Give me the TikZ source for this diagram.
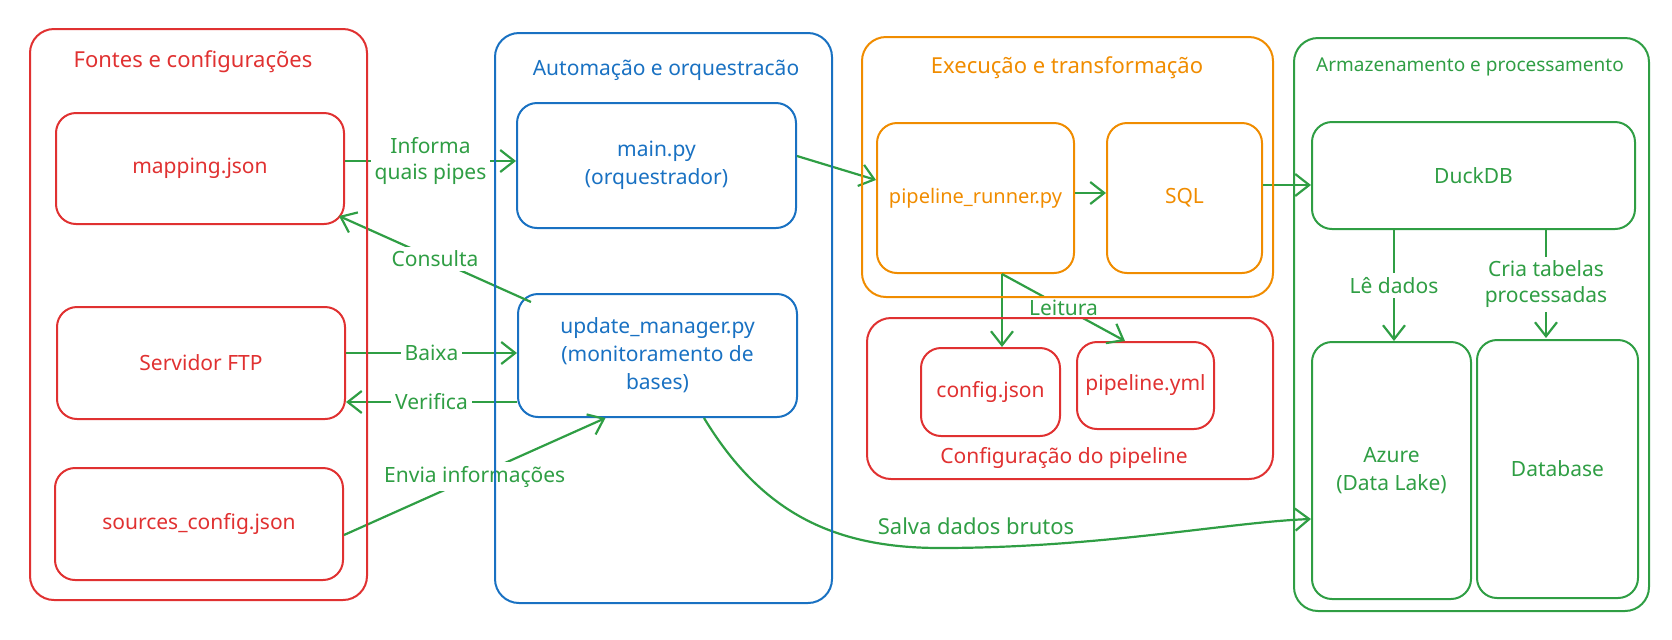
\documentclass[tikz,border=0pt]{standalone}
\usepackage{fontspec}
\setmainfont{Noto Sans}
\usepackage{tikz}
\usetikzlibrary{arrows.meta}
\definecolor{srcred}{HTML}{E03131}
\definecolor{autoblue}{HTML}{1971C2}
\definecolor{execorange}{HTML}{F08C00}
\definecolor{flowgreen}{HTML}{2F9E44}
\tikzset{
  group/.style={
    rectangle, rounded corners=12pt,
    line width=1pt, fill=none,
  },
  box/.style={
    rectangle, rounded corners=10pt,
    line width=1pt, align=center,
    font=\fontsize{10.5}{14}\selectfont,
  },
  grouptitle/.style={font=\fontsize{10.5}{13}\selectfont},
  flow/.style={-{Straight Barb[length=7pt, width=11pt]}, line width=1.1pt, color=flowgreen},
  flowlabel/.style={fill=white, text=flowgreen, inner sep=2pt, align=center,
    font=\fontsize{10.5}{13}\selectfont},
}

\begin{document}
\begin{tikzpicture}[x=0.5pt, y=-0.5pt]

  \useasboundingbox (0,0) rectangle (1672,639);

  \node[box, draw=srcred, text=srcred, minimum width=144pt, minimum height=55.5pt] (mapping) at (200,168.5) {mapping.json};
  \node[box, draw=srcred, text=srcred, minimum width=144pt, minimum height=56pt] (ftp) at (201,363) {Servidor FTP};
  \node[box, draw=srcred, text=srcred, minimum width=144pt, minimum height=56pt] (sources) at (199,524) {sources\_config.json};

  \node[box, draw=autoblue, text=autoblue, minimum width=139.5pt, minimum height=62.5pt] (main) at (656.5,165.5) {main.py\\(orquestrador)};
  \node[box, draw=autoblue, text=autoblue, minimum width=139.5pt, minimum height=61.5pt] (update) at (657.5,355.5) {update\_manager.py\\(monitoramento de\\bases)};

  \node[box, draw=execorange, text=execorange, minimum width=98.5pt, minimum height=75pt,
    font=\fontsize{10}{12}\selectfont] (runner) at (975.5,198) {pipeline\_runner.py};
  \node[box, draw=execorange, text=execorange, minimum width=77.5pt, minimum height=75pt] (sql) at (1184.5,198) {SQL};

  \node[box, draw=srcred, text=srcred, minimum width=69.5pt, minimum height=44pt] (cfgjson) at (990.5,392) {config.json};
  \node[box, draw=srcred, text=srcred, minimum width=68.5pt, minimum height=43.5pt] (pipeyml) at (1145.5,385.5) {pipeline.yml};

  \node[box, draw=flowgreen, text=flowgreen, minimum width=161.5pt, minimum height=53.5pt] (duckdb) at (1473.5,175.5) {DuckDB};
  \node[box, draw=flowgreen, text=flowgreen, minimum width=79.5pt, minimum height=128.5pt] (azure) at (1391.5,470.5) {Azure\\(Data Lake)};
  \node[box, draw=flowgreen, text=flowgreen, minimum width=80.5pt, minimum height=129pt] (database) at (1557.5,469) {Database};

  \draw[flow] ([yshift=3.75pt]mapping.east) -- ([yshift=3.75pt]mapping.east -| main.west)
    node[flowlabel, midway] {Informa\\quais pipes};
  \draw[flow] ([shift={(7pt,-4.5pt)}]update.north west) -- ([shift={(-3pt,4.5pt)}]mapping.south east)
    node[flowlabel, midway] {Consulta};
  \draw[flow] ([yshift=5pt]ftp.east) -- ([yshift=5pt]ftp.east -| update.west)
    node[flowlabel, midway] {Baixa};
  \draw[flow] ([yshift=-23.25pt]update.west) -- ([yshift=-23.25pt]update.west -| ftp.east)
    node[flowlabel, midway] {Verifica};
  \draw[flow] ([yshift=-5.5pt]sources.east) -- ([xshift=-26pt]update.south)
    node[flowlabel, midway] {Envia informações};

  \draw[flow] ([yshift=4.75pt]main.east) -- ([yshift=9pt]runner.west);
  \draw[flow] ([yshift=2.5pt]runner.east) -- ([yshift=2.5pt]runner.east -| sql.west);
  \draw[flow] ([yshift=6.5pt]sql.east) -- ([yshift=6.5pt]sql.east -| duckdb.west);

  \draw[flow] ([xshift=13.25pt]runner.south) -- ([xshift=13.25pt]runner.south |- cfgjson.north);
  \draw[flow] ([xshift=13.25pt]runner.south) -- ([xshift=-10.25pt]pipeyml.north)
    node[flowlabel, midway] {Leitura};

  \draw[flow] ([xshift=-39.75pt]duckdb.south) -- ([xshift=-39.75pt]duckdb.south |- azure.north)
    node[flowlabel, midway] {Lê dados};
  \draw[flow] ([xshift=36.25pt]duckdb.south) -- ([xshift=36.25pt,yshift=-54pt]duckdb.south)
    node[flowlabel, midway] {Cria tabelas\\processadas};

  \draw[flow] ([xshift=23.25pt]update.south) .. controls (760,510) and (830,548) .. (940,548)
    .. controls (1100,548) and (1230,522) .. ([yshift=-24.25pt]azure.west);
  \node[text=flowgreen, font=\fontsize{11}{13}\selectfont] (salvaT) at (976,526) {Salva dados brutos};

  \node[group, draw=srcred, minimum width=168.5pt, minimum height=285.5pt] (fontes) at (198.5,314.5) {};
  \node[grouptitle, text=srcred, font=\fontsize{11}{13}\selectfont] (fontesT) at (193,62) {Fontes e configurações};

  \node[group, draw=autoblue, minimum width=168.5pt, minimum height=285pt] (auto) at (663.5,318) {};
  \node[grouptitle, text=autoblue] (autoT) at (666,70) {Automação e orquestracão};

  \node[group, draw=execorange, minimum width=205.5pt, minimum height=130pt] (exec) at (1067.5,167) {};
  \node[grouptitle, text=execorange, font=\fontsize{11}{13}\selectfont] (execT) at (1067,68) {Execução e transformação};

  \node[group, draw=srcred, minimum width=203pt, minimum height=80.5pt] (cfg) at (1070,398.5) {};
  \node[grouptitle, text=srcred] (cfgT) at (1064,458) {Configuração do pipeline};

  \node[group, draw=flowgreen, minimum width=177.5pt, minimum height=286.5pt] (store) at (1471.5,324.5) {};
  \node[grouptitle, text=flowgreen, font=\fontsize{9.5}{12}\selectfont] (storeT) at (1470,67) {Armazenamento e processamento};

\end{tikzpicture}
\end{document}
